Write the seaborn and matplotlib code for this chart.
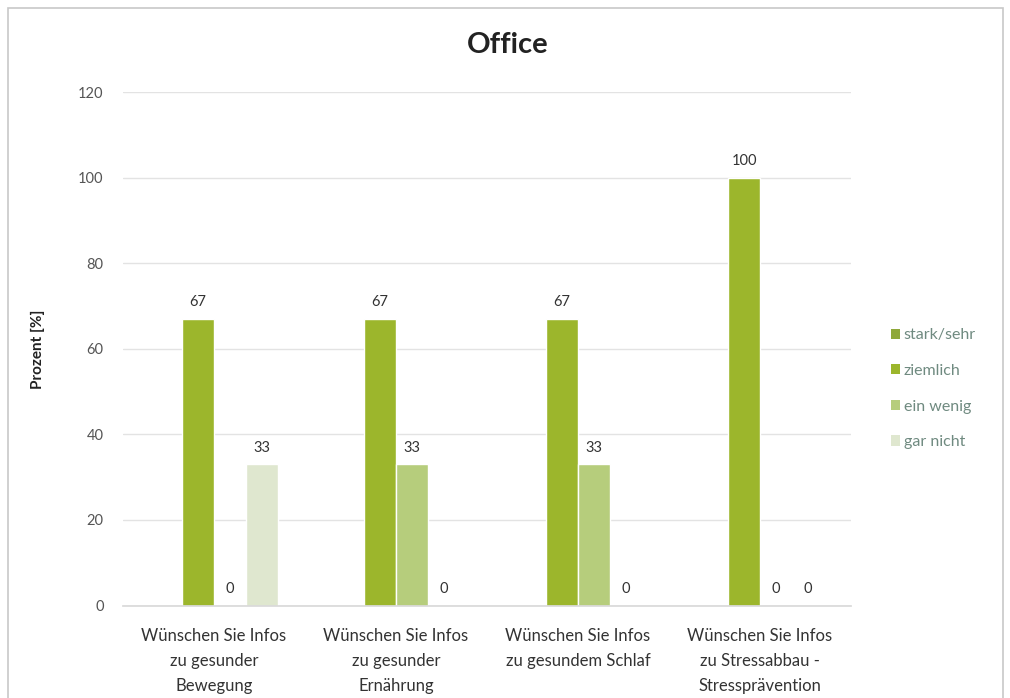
import numpy as np
import pandas as pd
import matplotlib
matplotlib.use("Agg")
import matplotlib.pyplot as plt
from matplotlib.patches import Patch, Rectangle
import seaborn as sns

categories = [
    "Wünschen Sie Infos\nzu gesunder\nBewegung",
    "Wünschen Sie Infos\nzu gesunder\nErnährung",
    "Wünschen Sie Infos\nzu gesundem Schlaf",
    "Wünschen Sie Infos\nzu Stressabbau -\nStressprävention",
]
series = ["stark/sehr", "ziemlich", "ein wenig", "gar nicht"]
stark_sehr = [np.nan, np.nan, np.nan, np.nan]
ziemlich = [67, 67, 67, 100]
ein_wenig = [0, 33, 33, 0]
gar_nicht = [33, 0, 0, 0]
colors = ["#8fa83a", "#9cb62c", "#b6cd7c", "#dfe7cf"]
yticks = [0, 20, 40, 60, 80, 100, 120]

rows = []
for s, vals in zip(series, [stark_sehr, ziemlich, ein_wenig, gar_nicht]):
    for c, v in zip(categories, vals):
        rows.append({"cat": c, "series": s, "val": v})
df = pd.DataFrame(rows)

sns.set_theme(style="white")
plt.rcParams["font.family"] = ["Lato", "DejaVu Sans"]

fig = plt.figure(figsize=(10.10, 6.98), dpi=100)
ax = fig.add_axes([0.1218, 0.1325, 0.7208, 0.7355])

sns.barplot(data=df.dropna(), x="cat", y="val", hue="series", order=categories,
            hue_order=series, palette=dict(zip(series, colors)), width=0.7,
            saturation=1, errorbar=None, ax=ax, legend=False)

for cont in ax.containers:
    ax.bar_label(cont, fmt="%.0f", padding=7, fontsize=10.5, color="#333333")

ax.set_ylim(0, 120)
ax.set_xlim(-0.5, 3.5)
ax.set_yticks(yticks)
ax.set_yticklabels([str(t) for t in yticks], fontsize=10.5, color="#555555")
ax.yaxis.grid(True, color="#e3e3e3", linewidth=1)
ax.set_axisbelow(True)
ax.tick_params(axis="x", length=0, pad=16, labelsize=12, labelcolor="#333333")
ax.tick_params(axis="y", length=0, pad=14)
for lbl in ax.get_xticklabels():
    lbl.set_multialignment("center")
    lbl.set_linespacing(1.7)
for sp in ["top", "right", "left"]:
    ax.spines[sp].set_visible(False)
ax.spines["bottom"].set_color("#d9d9d9")
ax.set_xlabel("")
ax.set_ylabel("Prozent [%]", fontsize=11, fontweight="bold", color="#222222", labelpad=24)

fig.text(0.503, 0.935, "Office", ha="center", va="center", fontsize=21,
         fontweight="bold", color="#222222")

handles = [Patch(facecolor=c, edgecolor="none") for c in colors]
fig.legend(handles, series, loc="center left", bbox_to_anchor=(0.874, 0.443),
           frameon=False, fontsize=11.5, handlelength=0.6, handleheight=0.6,
           handletextpad=0.2, labelspacing=1.35, labelcolor="#6f8a80", borderpad=0)

fig.patches.append(Rectangle((0.008, -0.01), 0.985, 0.998, transform=fig.transFigure,
                             fill=False, edgecolor="#c8c8c8", linewidth=1.2))

fig.savefig("out.png", dpi=100, facecolor="white")
